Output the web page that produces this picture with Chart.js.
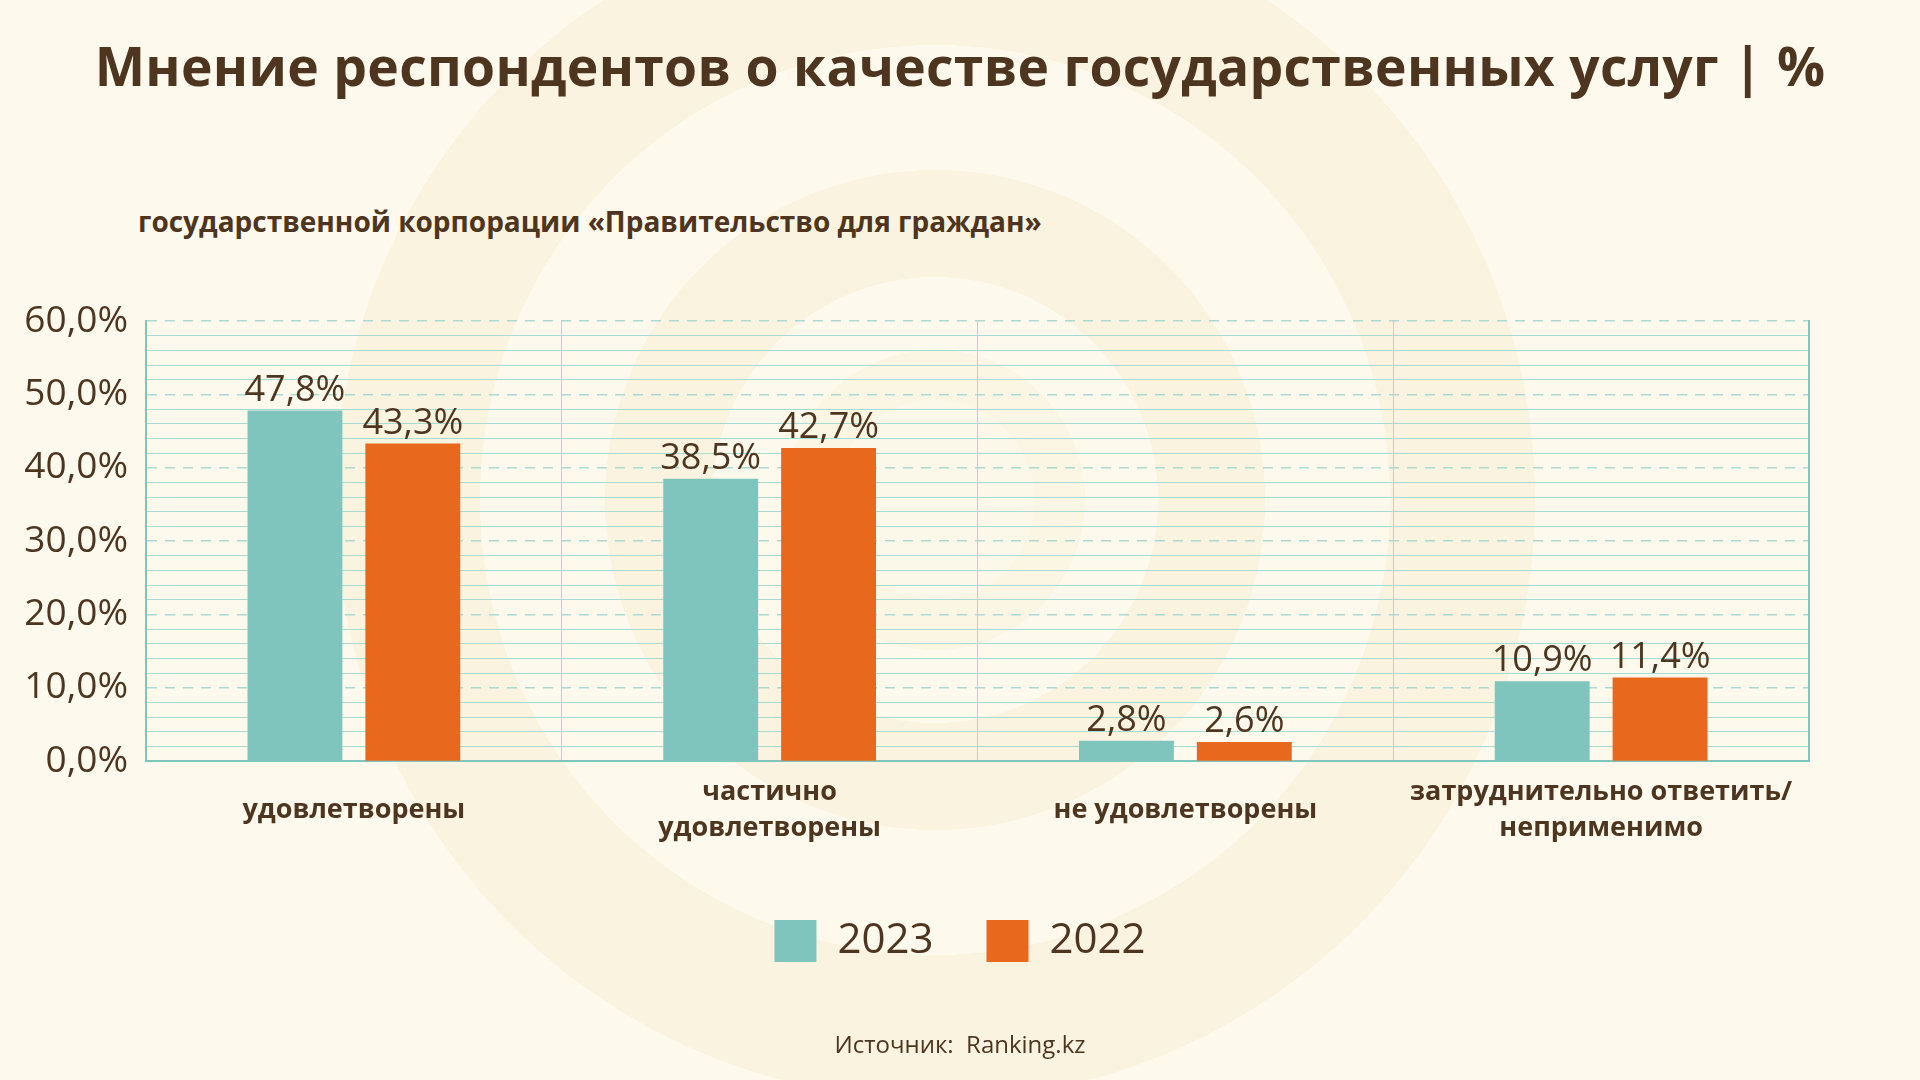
<!DOCTYPE html>
<html lang="ru">
<head>
<meta charset="utf-8">
<script src="https://cdn.jsdelivr.net/npm/chart.js@4.4.1/dist/chart.umd.min.js"></script>
<style>
  html, body { margin: 0; padding: 0; }
  body {
    width: 1920px; height: 1080px; overflow: hidden; position: relative;
    background: radial-gradient(circle at 935px 500px,
      #fcf8e9 0 100px, #fbf5e3 100px 150px, #fdf9ec 150px 223px,
      #faf3df 223px 330px, #fdf9ec 330px 455px,
      #faf3df 455px 600px, #fdf9ec 600px);
    font-family: "Open Sans", "Noto Sans", sans-serif;
    color: #4e3520;
  }
  #title {
    position: absolute; left: 0; width: 1920px; top: 29px;
    text-align: center; font-size: 53.4px; font-weight: 700; letter-spacing: 0.3px;
  }
  #subtitle {
    position: absolute; left: 138px; top: 202px;
    font-size: 28px; font-weight: 700;
  }
  #source {
    position: absolute; left: 0; width: 1920px; top: 1027px;
    text-align: center; font-size: 24px;
  }
  #chart { position: absolute; left: 0; top: 0; }
</style>
</head>
<body>
<div id="title">Мнение респондентов о качестве государственных услуг | %</div>
<div id="subtitle">государственной корпорации «Правительство для граждан»</div>
<canvas id="chart" width="1920" height="1080"></canvas>
<div id="source">Источник:&nbsp; Ranking.kz</div>
<script>
// Data
const categories = [
    "удовлетворены",
    ["частично", "удовлетворены"],
    "не удовлетворены",
    ["затруднительно ответить/", "неприменимо"]
];
const seriesNames = ["2023", "2022"];
const values2023 = [47.8, 38.5, 2.8, 10.9];
const values2022 = [43.3, 42.7, 2.6, 11.4];
const yMin = 0;
const yMax = 60;

const brown = '#4e3520';
const teal = '#80c5bd';
const orange = '#e8691e';
const gridTeal = '#a9dbd3';
const fontFamily = '"Open Sans", sans-serif';

const fmt = v => v.toFixed(1).replace('.', ',') + '%';

// Draws the value labels above each bar
const valueLabels = {
    id: 'valueLabels',
    afterDatasetsDraw(chart) {
        const ctx = chart.ctx;
        ctx.save();
        ctx.font = '36px ' + fontFamily;
        ctx.fillStyle = brown;
        ctx.textAlign = 'center';
        ctx.textBaseline = 'bottom';
        chart.data.datasets.forEach((ds, i) => {
            chart.getDatasetMeta(i).data.forEach((bar, j) => {
                ctx.fillText(fmt(ds.data[j]), bar.x, bar.y - 2);
            });
        });
        ctx.restore();
    }
};

new Chart(document.getElementById('chart').getContext('2d'), {
    type: 'bar',
    data: {
        labels: categories,
        datasets: [
            { label: seriesNames[0], data: values2023, backgroundColor: teal },
            { label: seriesNames[1], data: values2022, backgroundColor: orange }
        ]
    },
    options: {
        responsive: false,
        animation: false,
        layout: { padding: { top: 321, left: 0, right: 0, bottom: 108 } },
        datasets: {
            bar: { categoryPercentage: 0.567, barPercentage: 0.805 }
        },
        plugins: {
            legend: {
                position: 'bottom',
                labels: {
                    boxWidth: 42,
                    boxHeight: 42,
                    padding: 53,
                    color: brown,
                    font: { size: 42, family: fontFamily }
                }
            },
            tooltip: { enabled: false }
        },
        scales: {
            x: {
                offset: true,
                grid: { offset: true, color: gridTeal, lineWidth: 1, drawTicks: false },
                border: { color: teal, width: 2 },
                ticks: {
                    color: brown,
                    padding: 31,
                    crossAlign: 'center',
                    maxRotation: 0,
                    font: { size: 27, weight: 'bold', family: fontFamily, lineHeight: 1.33 }
                },
                afterFit: scale => { scale.height -= 28; }
            },
            yMinor: {
                // minor grid every 2 %, sits on the right and keeps the right margin
                position: 'right',
                min: yMin,
                max: yMax,
                ticks: { display: false, stepSize: 2 },
                grid: {
                    drawTicks: false,
                    color: ctx => (ctx.tick && ctx.tick.value % 10 === 0) ? 'rgba(0,0,0,0)' : gridTeal,
                    lineWidth: 1
                },
                border: { display: true, color: teal, width: 2 },
                afterFit: scale => { scale.width = 111; }
            },
            y: {
                position: 'left',
                min: yMin,
                max: yMax,
                ticks: {
                    stepSize: 10,
                    color: brown,
                    padding: 18,
                    callback: v => fmt(v),
                    font: { size: 37, family: fontFamily }
                },
                grid: { drawTicks: false, color: gridTeal, lineWidth: 1.5 },
                border: { color: teal, width: 2, dash: [10, 8] },
                afterFit: scale => { scale.width = 146; }
            }
        }
    },
    plugins: [valueLabels]
});
</script>
</body>
</html>
